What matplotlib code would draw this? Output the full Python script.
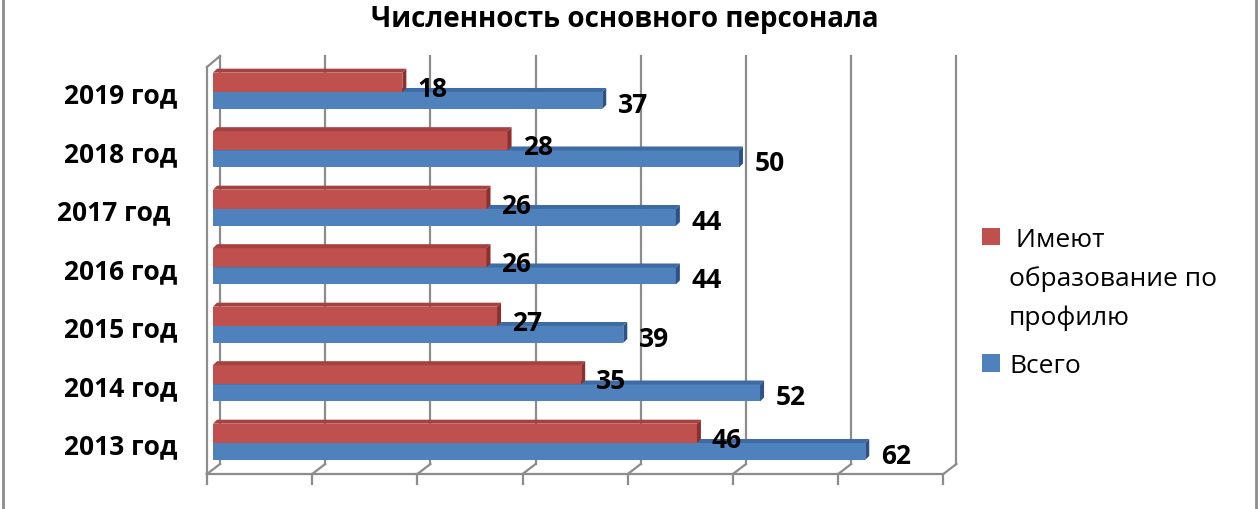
import numpy as np
import matplotlib
matplotlib.use('Agg')
import matplotlib.pyplot as plt
from matplotlib.patches import Polygon, Rectangle
from matplotlib.transforms import offset_copy

# data
years = ['2013 год', '2014 год', '2015 год', '2016 год', '2017 год ', '2018 год', '2019 год']
profile = [46, 35, 27, 26, 26, 28, 18]
total = [62, 52, 39, 44, 44, 50, 37]
ticks = np.arange(0, 71, 10)
legend_red = ['\u00a0Имеют', 'образование по', 'профилю']
legend_blue = 'Всего'

red = '#C0504D'
red_top = '#A5413E'
red_side = '#8A302D'
blue = '#4F81BD'
blue_top = '#3E6BA3'
blue_side = '#2D5287'
grid_col = '#8C8C8C'

plt.rcParams['font.family'] = ['Open Sans', 'DejaVu Sans']

fig = plt.figure(figsize=(12.6, 5.1), dpi=100)
W, H = 1260, 510
ax = fig.add_axes([213 / W, (H - 475) / H, 736.4 / W, (475 - 57) / H])
ax.set_xlim(0, 70)
ax.set_ylim(-0.530, 6.615)
ax.set_xticks(ticks)
ax.set_xticklabels([])
ax.tick_params(axis='x', length=0)
for s in ax.spines.values():
    s.set_visible(False)
ax.patch.set_alpha(0)

y = np.arange(len(years))
ax.set_yticks(y)
ax.set_yticklabels(years, fontsize=19, fontweight='bold')
ax.tick_params(axis='y', length=0, pad=26)

# 3d frame (front plane / back plane)
xt = ax.get_xaxis_transform()
dx_back, dy_back = 7, 10
dx_front = -6
back = offset_copy(xt, fig=fig, x=dx_back, y=0, units='dots')
front = offset_copy(xt, fig=fig, x=dx_front, y=0, units='dots')
floor_back = dy_back / (475 - 57)
top_front = 1 - 11 / (475 - 57)
for t in ticks:
    ax.plot([t, t], [floor_back, 1], color=grid_col, lw=1.6, transform=back, clip_on=False, zorder=1)
    ax.plot([t, t], [0, -10 / (475 - 57)], color=grid_col, lw=1.6, transform=front, clip_on=False, zorder=1)
# floor diagonals, in pixels from the data positions
for t in ticks:
    x0 = ax.transData.transform((t, 0))[0]
    p0 = fig.transFigure.inverted().transform((x0 + dx_front, ax.transAxes.transform((0, 0))[1]))
    p1 = fig.transFigure.inverted().transform((x0 + dx_back, ax.transAxes.transform((0, floor_back))[1]))
    fig.add_artist(plt.Line2D([p0[0], p1[0]], [p0[1], p1[1]], color=grid_col, lw=1.6, zorder=1))
ax.plot([0, 70], [0, 0], color=grid_col, lw=1.6, transform=front, clip_on=False, zorder=1)
# left wall
ax.plot([0, 0], [0, top_front], color=grid_col, lw=1.6, transform=front, clip_on=False, zorder=1)
x0 = ax.transData.transform((0, 0))[0]
yb = ax.transAxes.transform((0, top_front))[1]
yt = ax.transAxes.transform((0, 1))[1]
q0 = fig.transFigure.inverted().transform((x0 + dx_front, yb))
q1 = fig.transFigure.inverted().transform((x0 + dx_back, yt))
fig.add_artist(plt.Line2D([q0[0], q1[0]], [q0[1], q1[1]], color=grid_col, lw=1.6, zorder=1))

# bar depth in data units (4 px)
px_x = ax.transData.transform((1, 0))[0] - ax.transData.transform((0, 0))[0]
px_y = ax.transData.transform((0, 1))[1] - ax.transData.transform((0, 0))[1]
ddx = 4 / px_x
ddy = 4 / px_y

h_red = 0.33
h_blue = 0.29


def bar3d(x1, y0, h, front_c, top_c, side_c, z):
    ax.add_patch(Rectangle((0, y0), x1, h, facecolor=front_c, edgecolor='none', zorder=z))
    ax.add_patch(Polygon([(0, y0 + h), (x1, y0 + h), (x1 + ddx, y0 + h + ddy), (ddx, y0 + h + ddy)],
                         closed=True, facecolor=top_c, edgecolor='none', zorder=z))
    ax.add_patch(Polygon([(x1, y0), (x1 + ddx, y0 + ddy), (x1 + ddx, y0 + h + ddy), (x1, y0 + h)],
                         closed=True, facecolor=side_c, edgecolor='none', zorder=z))


for i in range(len(years)):
    bar3d(total[i], y[i] - h_blue, h_blue, blue, blue_top, blue_side, 3)
    bar3d(profile[i], y[i], h_red, red, red_top, red_side, 4)

for i in range(len(years)):
    ax.annotate(str(profile[i]), (profile[i], y[i] + h_red / 2), xytext=(15, -6),
                textcoords='offset pixels', ha='left', va='center',
                fontsize=19, fontweight='bold', color='black', zorder=6)
    ax.annotate(str(total[i]), (total[i], y[i] - h_blue / 2), xytext=(16, -4),
                textcoords='offset pixels', ha='left', va='center',
                fontsize=19, fontweight='bold', color='black', zorder=6)

# title
fig.text(625 / W, 1 - 19 / H, 'Численность основного персонала', ha='center', va='center',
         fontsize=20, fontweight='bold')

# legend
fig.add_artist(Rectangle((982 / W, 1 - 246 / H), 18 / W, 17 / H, transform=fig.transFigure,
                         facecolor=red, edgecolor='none'))
fig.add_artist(Rectangle((982 / W, 1 - 373 / H), 18 / W, 18 / H, transform=fig.transFigure,
                         facecolor=blue, edgecolor='none'))
for k, line in enumerate(legend_red):
    fig.text(1009 / W, 1 - (247 + 39 * k) / H, line, ha='left', va='baseline', fontsize=19)
fig.text(1009 / W, 1 - 373 / H, legend_blue, ha='left', va='baseline', fontsize=19)

# chart border
fig.add_artist(plt.Line2D([3 / W, 3 / W], [0, 1], color='#8C8C8C', lw=2))
fig.add_artist(plt.Line2D([1256 / W, 1256 / W], [0, 1], color='#8C8C8C', lw=2))

fig.savefig('out.png', dpi=100)
